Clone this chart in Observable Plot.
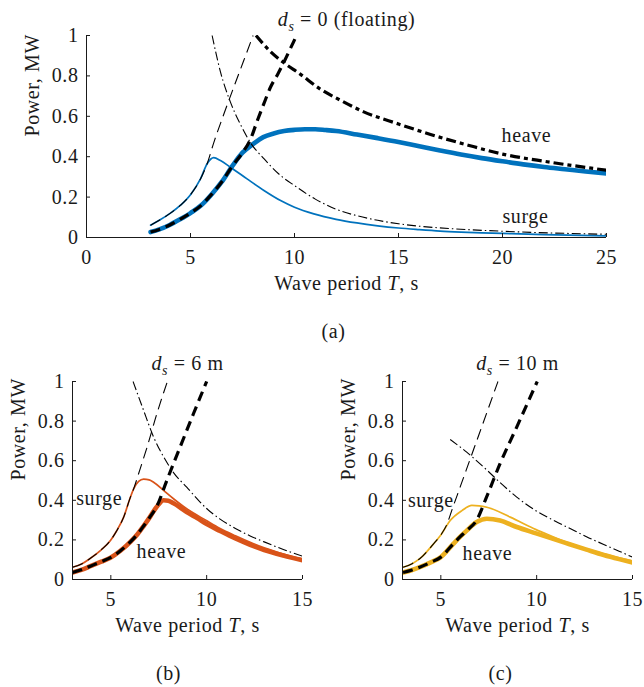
<!DOCTYPE html>
<html>
<head>
<meta charset="utf-8">
<script src="https://cdn.jsdelivr.net/npm/d3@7"></script>
<script src="https://cdn.jsdelivr.net/npm/@observablehq/plot@0.6"></script>
<style>
  body { margin: 0; background: #fff; }
  #wrap { position: relative; width: 644px; height: 687px; overflow: hidden; background: #fff; }
  #wrap svg { position: absolute; }
</style>
</head>
<body>
<div id="wrap"></div>
<script>
// ---------- texts & ticks ----------
const yTicks = [0, 0.2, 0.4, 0.6, 0.8, 1];
const xTicksA = [0, 5, 10, 15, 20, 25];
const xTicksBC = [5, 10, 15];
const titles = ["d_s = 0 (floating)", "d_s = 6 m", "d_s = 10 m"];
const panelTags = ["(a)", "(b)", "(c)"];
const xLabel = "Wave period T, s";
const yLabel = "Power, MW";

// in-plot labels [T, P, text]
const labelsA = [[21.15, 0.506, "heave"], [21.1, 0.104, "surge"]];
const labelsB = [[4.39, 0.41, "surge"], [7.64, 0.141, "heave"]];
const labelsC = [[4.48, 0.40, "surge"], [7.43, 0.131, "heave"]];

// ---------- panel (a): d_s = 0 ----------
const aHeave = [[3.08,0.027],[3.5,0.040],[4.0,0.062],[4.5,0.090],[5.0,0.121],[5.5,0.158],[6.0,0.212],[6.5,0.275],[7.0,0.352],[7.5,0.42],[8.0,0.462],[8.5,0.497],[9.0,0.515],[9.5,0.527],[10,0.533],[10.5,0.536],[11,0.536],[11.5,0.532],[12,0.527],[13,0.51],[14,0.492],[15,0.473],[16,0.452],[17,0.431],[18,0.411],[19,0.393],[20,0.377],[21,0.362],[22,0.349],[23,0.338],[24,0.327],[25,0.317]];
const aHeaveDash = [[3.08,0.027],[3.5,0.040],[4.0,0.062],[4.5,0.090],[5.0,0.121],[5.5,0.158],[6.0,0.212],[6.5,0.275],[7.0,0.352],[7.5,0.42],[7.9,0.49],[8.2,0.575],[8.5,0.655],[8.85,0.745],[9.2,0.81],[9.5,0.87],[9.8,0.935],[10.1,1.0]];
const aSurge = [[3.08,0.061],[3.5,0.085],[4.0,0.118],[4.52,0.16],[5.0,0.212],[5.48,0.29],[5.8,0.365],[6.12,0.395],[6.44,0.381],[6.92,0.348],[7.72,0.29],[8.53,0.233],[9.33,0.183],[10,0.15],[10.93,0.117],[12,0.09],[13,0.072],[14,0.058],[15,0.047],[16,0.039],[17,0.032],[18,0.027],[19,0.023],[20,0.02],[22,0.014],[25,0.008]];
const aSurgeDash = [[3.08,0.061],[3.5,0.085],[4.0,0.118],[4.52,0.16],[5.0,0.212],[5.48,0.29],[5.8,0.365],[6.12,0.47],[6.6,0.61],[7.08,0.744],[7.56,0.876],[8.01,1.0]];
const aSurgeDashDot = [[6.04,1.0],[6.44,0.82],[6.92,0.67],[7.4,0.56],[7.88,0.47],[8.53,0.39],[9.33,0.307],[10,0.257],[11,0.19],[12,0.14],[13,0.108],[14,0.085],[15,0.068],[16,0.056],[17.5,0.044],[20,0.031],[22.5,0.022],[25,0.016]];
const aHeaveDashDot = [[8.15,1.0],[8.85,0.92],[9.49,0.865],[10.26,0.81],[11.22,0.736],[12.2,0.68],[13.33,0.622],[15,0.562],[16.54,0.51],[18.35,0.457],[20,0.413],[22.15,0.375],[25,0.333]];

// ---------- panel (b): d_s = 6 m ----------
const bHeave = [[3.0,0.035],[3.5,0.05],[3.9,0.066],[4.5,0.09],[4.98,0.11],[5.5,0.145],[6.02,0.19],[6.4,0.23],[6.71,0.27],[7.0,0.31],[7.23,0.345],[7.5,0.38],[7.75,0.40],[8.0,0.398],[8.27,0.385],[8.6,0.365],[8.96,0.34],[9.5,0.31],[10,0.28],[10.7,0.245],[11.5,0.207],[12.27,0.175],[13,0.149],[14,0.121],[15,0.097]];
const bHeaveDash = [[3.0,0.035],[3.5,0.05],[3.9,0.066],[4.5,0.09],[4.98,0.11],[5.5,0.145],[6.02,0.19],[6.4,0.23],[6.71,0.27],[7.0,0.31],[7.4,0.37],[7.92,0.5],[8.61,0.668],[9.31,0.837],[10.0,1.0]];
const bSurge = [[3.0,0.062],[3.5,0.08],[3.9,0.105],[4.5,0.15],[4.98,0.197],[5.3,0.245],[5.67,0.315],[6.0,0.41],[6.19,0.458],[6.45,0.495],[6.71,0.507],[7.0,0.503],[7.23,0.491],[7.75,0.45],[8.27,0.408],[8.96,0.357],[9.98,0.298],[10.7,0.258],[11.5,0.221],[12.27,0.188],[13,0.16],[14,0.129],[15,0.103]];
const bSurgeDash = [[3.0,0.062],[3.5,0.08],[3.9,0.105],[4.5,0.15],[4.98,0.197],[5.3,0.245],[5.67,0.315],[6.0,0.41],[6.19,0.458],[6.5,0.55],[6.89,0.668],[7.4,0.837],[7.95,1.0]];
const bSurgeDashDot = [[6.16,1.0],[6.71,0.854],[7.23,0.72],[7.75,0.62],[8.27,0.54],[8.96,0.466],[9.98,0.36],[10.7,0.305],[11.5,0.258],[12.27,0.22],[13,0.19],[14,0.152],[15,0.118]];

// ---------- panel (c): d_s = 10 m ----------
const cHeave = [[3.03,0.035],[3.5,0.048],[3.9,0.062],[4.5,0.088],[5.0,0.113],[5.65,0.18],[6.0,0.215],[6.35,0.247],[6.87,0.29],[7.4,0.307],[8.09,0.298],[8.96,0.265],[9.97,0.233],[10.7,0.21],[11.5,0.185],[12.6,0.151],[13.5,0.124],[14.3,0.103],[15,0.086]];
const cHeaveDash = [[3.03,0.035],[3.5,0.048],[3.9,0.062],[4.5,0.088],[5.0,0.113],[5.65,0.18],[6.0,0.215],[6.35,0.247],[6.87,0.30],[7.4,0.42],[8.09,0.585],[8.96,0.77],[10.03,1.0]];
const cSurge = [[3.03,0.062],[3.5,0.08],[3.9,0.105],[4.62,0.18],[5.0,0.225],[5.49,0.298],[6.1,0.348],[6.62,0.374],[7.0,0.372],[7.4,0.365],[8.62,0.315],[9.97,0.252],[10.7,0.222],[11.5,0.19],[12.6,0.155],[13.5,0.13],[14.3,0.11],[15,0.094]];
const cSurgeDash = [[3.03,0.062],[3.5,0.08],[3.9,0.105],[4.62,0.18],[5.0,0.225],[5.3,0.275],[5.6,0.357],[6.0,0.465],[6.5,0.60],[7.0,0.735],[7.5,0.87],[7.98,1.0]];
const cSurgeDashDot = [[5.49,0.707],[6.35,0.643],[7.24,0.567],[8.09,0.49],[8.96,0.416],[10,0.345],[11,0.293],[12,0.245],[12.6,0.216],[13.5,0.177],[14.3,0.143],[15,0.113]];

// ---------- styling ----------
const INK = "#1a1a1a";
const BLUE = "#0072BD", ORANGE = "#D95319", YELLOW = "#EDB120";
const THICK = 4.6, THIN = 1.7;
const DASH_THICK = "10,6", DASH_THIN = "11,6";
const DD_THICK = "10,4,4,4", DD_THIN = "9,3,1.5,3";

function colored(data, color, w) { return {data, stroke: color, w}; }
function black(data, w, dash) { return {data, stroke: "#000", w, dash}; }

function makePanel(c) {
  const fw = c.width - c.ml - c.mr, fh = c.height - c.mt - c.mb;
  const marks = [];
  for (const s of c.series) {
    marks.push(Plot.line(s.data, {
      x: d => d[0], y: d => d[1],
      stroke: s.stroke, strokeWidth: s.w,
      strokeDasharray: s.dash || null,
      strokeLinecap: s.dash ? "butt" : "round",
      curve: "monotone-x", clip: true
    }));
  }
  marks.push(
    Plot.ruleY([0], {stroke: INK, strokeWidth: 1}),
    Plot.ruleX([c.xDomain[0]], {stroke: INK, strokeWidth: 1}),
    Plot.tickX(c.xTicks, {x: d => d, insetTop: fh - 4, stroke: INK}),
    Plot.tickY(yTicks, {y: d => d, insetRight: fw - 4, stroke: INK}),
    Plot.axisX({ticks: c.xTicks, tickSize: 0, tickPadding: 12, tickFormat: d => String(d), label: null}),
    Plot.axisY({ticks: yTicks, tickSize: 0, tickPadding: 8, tickFormat: d => String(d), label: null}),
    Plot.text([xLabel], {text: d => d, frameAnchor: "bottom", lineAnchor: "middle", dy: 46}),
    Plot.text([yLabel], {text: d => d, frameAnchor: "left", lineAnchor: "middle", rotate: -90, dx: -54}),
    Plot.text([c.title], {text: d => d, frameAnchor: "top", lineAnchor: "middle", dy: c.titleDy}),
    Plot.text([c.tag], {text: d => d, frameAnchor: "bottom", lineAnchor: "middle", dy: 94, dx: c.tagDx}),
    Plot.text(c.labels, {x: d => d[0], y: d => d[1], text: d => d[2], lineAnchor: "middle"})
  );
  const svg = Plot.plot({
    width: c.width, height: c.height,
    marginTop: c.mt, marginRight: c.mr, marginBottom: c.mb, marginLeft: c.ml,
    x: {domain: c.xDomain},
    y: {domain: [0, 1]},
    style: {fontFamily: "'Liberation Serif', 'DejaVu Serif', serif", fontSize: "20px", color: INK, background: "transparent", overflow: "visible", letterSpacing: "0.6px"},
    marks
  });
  svg.style.left = c.left + "px";
  svg.style.top = c.top + "px";
  rich(svg);
  return svg;
}

function addSpan(el, txt, attrs = {}) {
  const t = document.createElementNS("http://www.w3.org/2000/svg", "tspan");
  for (const k in attrs) t.setAttribute(k, attrs[k]);
  t.textContent = txt;
  el.appendChild(t);
}

function rich(svg) {
  svg.querySelectorAll("text").forEach(el => {
    const t = el.textContent;
    if (t === xLabel) {
      el.textContent = "";
      addSpan(el, "Wave period ");
      addSpan(el, "T", {"font-style": "italic"});
      addSpan(el, ", s");
    } else if (t.startsWith("d_s")) {
      el.textContent = "";
      addSpan(el, "d", {"font-style": "italic"});
      addSpan(el, "s", {"font-style": "italic", "font-size": "14px", dy: "5"});
      addSpan(el, t.slice(3), {dy: "-5"});
    }
  });
}

const wrap = document.getElementById("wrap");

wrap.appendChild(makePanel({
  left: 0, top: 0, width: 644, height: 345, mt: 35, mr: 38, mb: 108, ml: 86,
  xDomain: [0, 25], xTicks: xTicksA, title: titles[0], titleDy: -16, tag: panelTags[0], tagDx: -13,
  labels: labelsA,
  series: [
    colored(aHeave, BLUE, THICK),
    colored(aSurge, BLUE, THIN),
    black(aHeaveDash, 3.2, DASH_THICK),
    black(aSurgeDash, 1.1, DASH_THIN),
    black(aHeaveDashDot, 3.2, DD_THICK),
    black(aSurgeDashDot, 1.1, DD_THIN)
  ]
}));

wrap.appendChild(makePanel({
  left: 0, top: 345, width: 322, height: 342, mt: 36, mr: 20, mb: 108, ml: 72,
  xDomain: [3, 15], xTicks: xTicksBC, title: titles[1], titleDy: -18, tag: panelTags[1], tagDx: -19,
  labels: labelsB,
  series: [
    colored(bHeave, ORANGE, THICK),
    colored(bSurge, ORANGE, THIN),
    black(bHeaveDash, 3.2, DASH_THICK),
    black(bSurgeDash, 1.1, DASH_THIN),
    black(bSurgeDashDot, 1.1, DD_THIN)
  ]
}));

wrap.appendChild(makePanel({
  left: 322, top: 345, width: 322, height: 342, mt: 36, mr: 12, mb: 108, ml: 80,
  xDomain: [3, 15], xTicks: xTicksBC, title: titles[2], titleDy: -18, tag: panelTags[2], tagDx: -17,
  labels: labelsC,
  series: [
    colored(cHeave, YELLOW, THICK),
    colored(cSurge, YELLOW, THIN),
    black(cHeaveDash, 3.2, DASH_THICK),
    black(cSurgeDash, 1.1, DASH_THIN),
    black(cSurgeDashDot, 1.1, DD_THIN)
  ]
}));
</script>
</body>
</html>
